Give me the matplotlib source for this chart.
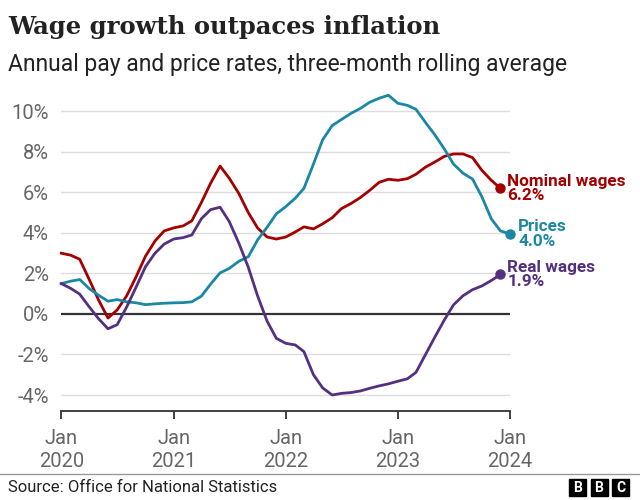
import matplotlib
matplotlib.use("Agg")
import matplotlib.pyplot as plt
from matplotlib.patches import Rectangle
from matplotlib.lines import Line2D
import pandas as pd

# three-month rolling averages, % annual change
wage_months = pd.date_range("2020-01-01", "2023-12-01", freq="MS")
price_months = pd.date_range("2020-01-01", "2024-01-01", freq="MS")

nominal_wages = [3.0, 2.9, 2.7, 1.7, 0.7, -0.2, 0.2, 0.9, 1.85, 2.85, 3.6, 4.1,
                 4.25, 4.35, 4.6, 5.5, 6.45, 7.3, 6.7, 5.95, 5.0, 4.25, 3.8, 3.7,
                 3.8, 4.05, 4.3, 4.2, 4.45, 4.75, 5.2, 5.45, 5.75, 6.1, 6.5, 6.65,
                 6.6, 6.68, 6.9, 7.25, 7.5, 7.78, 7.9, 7.9, 7.72, 7.1, 6.6, 6.2]
prices = [1.5, 1.62, 1.7, 1.25, 0.93, 0.63, 0.71, 0.6, 0.55, 0.46, 0.5, 0.53,
          0.55, 0.56, 0.6, 0.88, 1.47, 2.03, 2.25, 2.6, 2.83, 3.65, 4.28, 4.94,
          5.3, 5.72, 6.2, 7.4, 8.6, 9.3, 9.6, 9.9, 10.15, 10.45, 10.65, 10.8,
          10.4, 10.3, 10.1, 9.45, 8.85, 8.15, 7.4, 6.95, 6.66, 5.8, 4.7, 4.1, 3.95]
real_wages = [1.5, 1.26, 0.98, 0.35, -0.23, -0.73, -0.53, 0.35, 1.34, 2.33, 3.0, 3.45,
              3.7, 3.77, 3.9, 4.7, 5.15, 5.27, 4.56, 3.5, 2.3, 0.9, -0.35, -1.2,
              -1.45, -1.53, -1.86, -3.0, -3.65, -4.0, -3.92, -3.88, -3.8, -3.67, -3.55, -3.45,
              -3.32, -3.2, -2.88, -2.0, -1.15, -0.3, 0.45, 0.9, 1.2, 1.38, 1.65, 1.95]

series = [
    (wage_months, nominal_wages, "#a50000", "Nominal wages\n6.2%", 5),
    (price_months, prices, "#1a88a3", "Prices\n4.0%", 6),
    (wage_months, real_wages, "#54307f", "Real wages\n1.9%", 5),
]

yticks = [10, 8, 6, 4, 2, 0, -2, -4]
years = [2020, 2021, 2022, 2023, 2024]

sans = ["Roboto", "DejaVu Sans"]
plt.rcParams["font.family"] = sans

fig = plt.figure(figsize=(6.4, 5), dpi=100)
ax = fig.add_axes([61.3 / 640, (500 - 410.7) / 500, (510 - 61.3) / 640, (410.7 - 95) / 500])

for y in yticks:
    if y == 0:
        ax.axhline(0, color="#333333", lw=1.6, zorder=2)
    else:
        ax.axhline(y, color="#dddddd", lw=1.0, zorder=1)

for x, vals, col, lab, dx in series:
    ax.plot(x, vals, color=col, lw=2.0, zorder=3, clip_on=False,
            solid_joinstyle="round")
    ax.plot(x[-1], vals[-1], "o", color=col, ms=6.5, zorder=4, clip_on=False)
    ax.annotate(lab, (x[-1], vals[-1]), xytext=(dx, 0), textcoords="offset points",
                ha="left", va="center", color=col, fontsize=12.3, fontweight="bold",
                linespacing=0.95, annotation_clip=False)

ax.set_ylim(-4.775, 10.81)
ax.set_xlim(pd.Timestamp("2020-01-01"), pd.Timestamp("2024-01-01"))
ax.set_yticks(yticks)
ax.set_yticklabels([f"{v}%" for v in yticks])
ax.set_xticks([pd.Timestamp(f"{yr}-01-01") for yr in years])
ax.set_xticklabels([f"Jan\n{yr}" for yr in years], linespacing=1.3)

for s in ["top", "right", "left"]:
    ax.spines[s].set_visible(False)
ax.spines["bottom"].set_color("#333333")
ax.spines["bottom"].set_linewidth(1.3)
ax.tick_params(axis="y", length=0, pad=9, labelsize=14.5, labelcolor="#666666")
ax.tick_params(axis="x", length=6, width=1.3, color="#333333", pad=7,
               labelsize=14.5, labelcolor="#666666")
ax.set_facecolor("none")

fig.text(8 / 640, 1 - 15 / 500, "Wage growth outpaces inflation", ha="left", va="top",
         family="DejaVu Serif", fontsize=17.5, fontweight="bold", color="#222222")
fig.text(8 / 640, 1 - 53 / 500, "Annual pay and price rates, three-month rolling average",
         ha="left", va="top", fontsize=16.5, color="#222222")

fig.add_artist(Line2D([0, 1], [26 / 500, 26 / 500], color="#999999", lw=1,
                      transform=fig.transFigure))
fig.text(8 / 640, 12 / 500, "Source: Office for National Statistics", ha="left",
         va="center", fontsize=12, color="#222222")

for i, letter in enumerate("BBC"):
    x0 = (569 + i * 21.5) / 640
    fig.add_artist(Rectangle((x0, 4 / 500), 17 / 640, 17 / 500, color="black",
                             transform=fig.transFigure))
    fig.text(x0 + 8.5 / 640, 12.5 / 500, letter, ha="center", va="center",
             color="white", fontsize=10, fontweight="bold")

fig.savefig("out.png", dpi=100)
